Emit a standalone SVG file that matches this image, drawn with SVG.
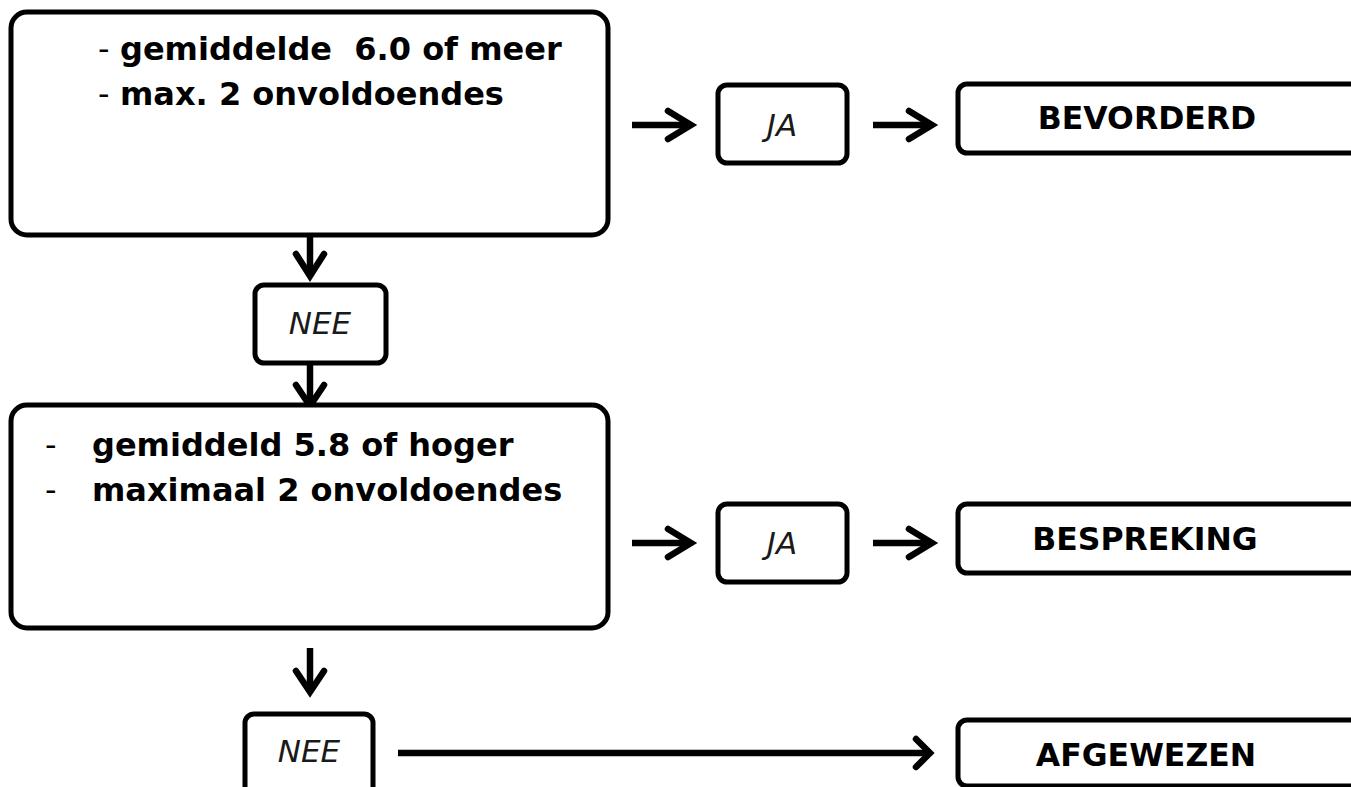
<svg xmlns="http://www.w3.org/2000/svg" width="1351" height="787" viewBox="0 0 1351 787">
<style>
.box{fill:#fff;stroke:#000;stroke-width:5}
.bt{font-family:"DejaVu Sans",Verdana,sans-serif;font-weight:bold;font-size:32px;fill:#000;white-space:pre}
.cap{font-family:"DejaVu Sans",Verdana,sans-serif;font-weight:bold;font-size:31.5px;fill:#000;text-anchor:middle}
.dash{font-family:"DejaVu Sans",Verdana,sans-serif;font-size:32px;fill:#000}
.it{font-family:"DejaVu Sans",Verdana,sans-serif;font-style:italic;font-size:31px;fill:#1a1a1a;text-anchor:middle}
.arr{fill:none;stroke:#000;stroke-width:6.5;stroke-linecap:round;stroke-linejoin:miter}
.shaft{fill:none;stroke:#000;stroke-width:6.5}
</style>
<rect width="1351" height="787" fill="#fff"/>
<g id="connectors">
<path class="shaft" d="M632 125H688"/><path class="arr" d="M668 111L691 125L668 139"/>
<path class="shaft" d="M873 125H929"/><path class="arr" d="M909 111L932 125L909 139"/>
<path class="shaft" d="M632 543H688"/><path class="arr" d="M668 529L691 543L668 557"/>
<path class="shaft" d="M873 543H929"/><path class="arr" d="M909 529L932 543L909 557"/>
<path class="shaft" d="M310 235V274"/><path class="arr" d="M296 254L310 276L324 254"/>
<path class="shaft" d="M310 363V404"/><path class="arr" d="M296 385L310 406L324 385"/>
<path class="shaft" d="M310 648V690"/><path class="arr" d="M296 671L310 692L324 671"/>
<path class="shaft" d="M398 753H928"/><path class="arr" d="M916 739L930 753L916 767"/>
</g>
<g id="node-crit1">
<rect class="box" x="11" y="12" width="597" height="223" rx="16"/>
<text class="dash" x="98" y="60">-</text>
<text class="bt" x="120" y="60">gemiddelde  6.0 of meer</text>
<text class="dash" x="98" y="105">-</text>
<text class="bt" x="120" y="105">max. 2 onvoldoendes</text>
</g>
<g id="node-ja1">
<rect class="box" x="718" y="85" width="129" height="78" rx="9"/>
<text class="it" x="782" y="136">JA</text>
</g>
<g id="node-bevorderd">
<rect class="box" x="958" y="84" width="410" height="69" rx="9"/>
<text class="cap" x="1147" y="129">BEVORDERD</text>
</g>
<g id="node-nee1">
<rect class="box" x="255" y="285" width="131" height="78" rx="9"/>
<text class="it" x="320" y="334">NEE</text>
</g>
<g id="node-crit2">
<rect class="box" x="11" y="405" width="597" height="223" rx="16"/>
<text class="dash" x="45" y="456">-</text>
<text class="bt" x="92" y="456">gemiddeld 5.8 of hoger</text>
<text class="dash" x="45" y="501">-</text>
<text class="bt" x="92" y="501">maximaal 2 onvoldoendes</text>
</g>
<g id="node-ja2">
<rect class="box" x="718" y="504" width="129" height="78" rx="9"/>
<text class="it" x="782" y="554">JA</text>
</g>
<g id="node-bespreking">
<rect class="box" x="958" y="504" width="410" height="69" rx="9"/>
<text class="cap" x="1145" y="550">BESPREKING</text>
</g>
<g id="node-nee2">
<rect class="box" x="245" y="714" width="128" height="90" rx="9"/>
<text class="it" x="309" y="762">NEE</text>
</g>
<g id="node-afgewezen">
<rect class="box" x="958" y="720" width="410" height="66" rx="9"/>
<text class="cap" x="1146" y="766">AFGEWEZEN</text>
</g>
</svg>
